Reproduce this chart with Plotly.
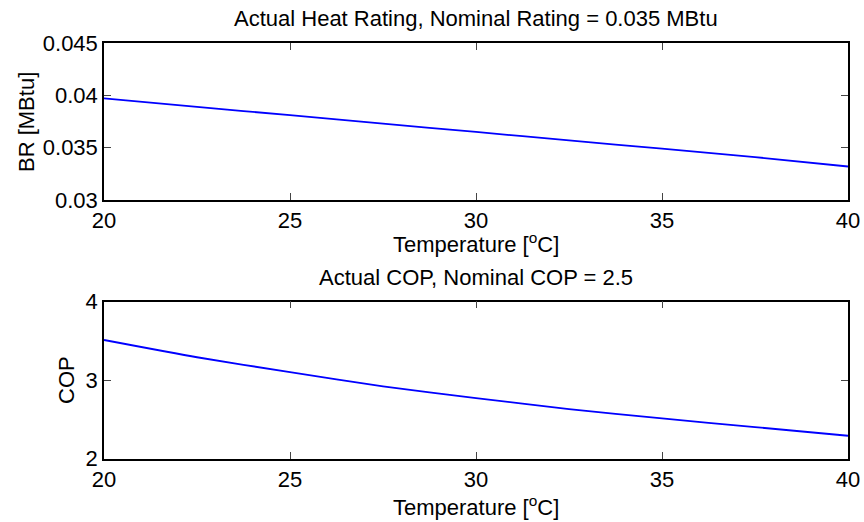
import plotly.graph_objects as go

temps = [20, 22.5, 25, 27.5, 30, 32.5, 35, 37.5, 40]
br_values = [0.0397, 0.0389, 0.0381, 0.0373, 0.0365, 0.0357, 0.0349, 0.0341, 0.0332]
cop_values = [3.51, 3.29, 3.10, 2.92, 2.77, 2.63, 2.51, 2.40, 2.29]

x_ticks = [20, 25, 30, 35, 40]
br_ticks = [0.03, 0.035, 0.04, 0.045]
br_ticktext = ["0.03", "0.035", "0.04", "0.045"]
cop_ticks = [2, 3, 4]

title_top = "Actual Heat Rating, Nominal Rating = 0.035 MBtu"
title_bot = "Actual COP, Nominal COP = 2.5"
xlabel = "Temperature [<sup>o</sup>C]"
ylabel_top = "BR [MBtu]"
ylabel_bot = "COP"

W, H = 864, 522
L, R = 104, 848
T1, B1 = 43, 200
T2, B2 = 301.5, 458.5

FONT = "Liberation Sans, Arial, sans-serif"
FS = 22

fig = go.Figure()
fig.add_trace(go.Scatter(x=temps, y=br_values, mode="lines",
                         line=dict(color="#0000ff", width=1.8, shape="spline", smoothing=0.6),
                         xaxis="x", yaxis="y", showlegend=False))
fig.add_trace(go.Scatter(x=temps, y=cop_values, mode="lines",
                         line=dict(color="#0000ff", width=1.8, shape="spline", smoothing=0.6),
                         xaxis="x2", yaxis="y2", showlegend=False))

axis_common = dict(showline=True, linecolor="black", linewidth=1.5, mirror="ticks",
                   ticks="inside", ticklen=7, tickcolor="#444", tickwidth=1,
                   showgrid=False, zeroline=False, automargin=False,
                   tickfont=dict(family=FONT, size=FS, color="black"))

xd = [L / W, R / W]
fig.update_layout(
    width=W, height=H,
    margin=dict(l=0, r=0, t=0, b=0),
    paper_bgcolor="white", plot_bgcolor="white",
    font=dict(family=FONT, size=FS, color="black"),
    xaxis=dict(domain=xd, range=[20, 40], tickvals=x_ticks, anchor="y", **axis_common),
    yaxis=dict(domain=[1 - B1 / H, 1 - T1 / H], range=[0.03, 0.045], tickvals=br_ticks,
               ticktext=br_ticktext, anchor="x", **axis_common),
    xaxis2=dict(domain=xd, range=[20, 40], tickvals=x_ticks, anchor="y2", **axis_common),
    yaxis2=dict(domain=[1 - B2 / H, 1 - T2 / H], range=[2, 4], tickvals=cop_ticks,
                anchor="x2", **axis_common),
)

def ann(text, x, y, angle=0):
    fig.add_annotation(text=text, x=x / W, y=1 - y / H, xref="paper", yref="paper",
                       showarrow=False, textangle=angle, xanchor="center", yanchor="middle",
                       font=dict(family=FONT, size=FS, color="black"))

cx = (L + R) / 2
ann(title_top, cx, 19)
ann(xlabel, cx, 243)
ann(ylabel_top, 27, 122, -90)
ann(title_bot, cx, 277)
ann(xlabel, cx, 506)
ann(ylabel_bot, 66, 380, -90)

fig.write_html("out.html", config={"displayModeBar": False},
               post_script="document.body.style.margin='0';document.body.style.overflow='hidden';")
